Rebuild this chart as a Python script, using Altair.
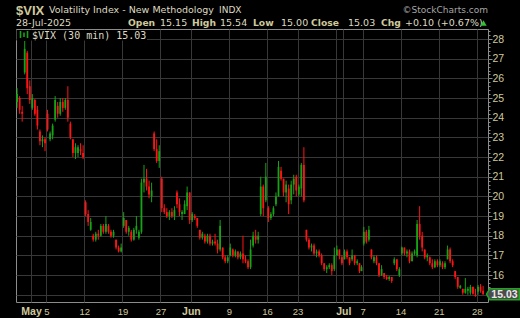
import altair as alt
import pandas as pd

# ---------------- data ----------------
days = [
    "2025-04-29", "2025-04-30",
    "2025-05-01", "2025-05-02", "2025-05-05", "2025-05-06", "2025-05-07", "2025-05-08", "2025-05-09",
    "2025-05-12", "2025-05-13", "2025-05-14", "2025-05-15", "2025-05-16",
    "2025-05-19", "2025-05-20", "2025-05-21", "2025-05-22", "2025-05-23",
    "2025-05-27", "2025-05-28", "2025-05-29", "2025-05-30",
    "2025-06-02", "2025-06-03", "2025-06-04", "2025-06-05", "2025-06-06",
    "2025-06-09", "2025-06-10", "2025-06-11", "2025-06-12", "2025-06-13",
    "2025-06-16", "2025-06-17", "2025-06-18", "2025-06-20",
    "2025-06-23", "2025-06-24", "2025-06-25", "2025-06-26", "2025-06-27",
    "2025-06-30", "2025-07-01", "2025-07-02", "2025-07-03",
    "2025-07-07", "2025-07-08", "2025-07-09", "2025-07-10", "2025-07-11",
    "2025-07-14", "2025-07-15", "2025-07-16", "2025-07-17", "2025-07-18",
    "2025-07-21", "2025-07-22", "2025-07-23", "2025-07-24", "2025-07-25",
    "2025-07-28",
]
half_days = ["2025-07-03"]

opens = [
    24.8, 25.0, 24.3,  26.3, 27.3, 25.6,  24.5, 24.9, 24.4,  23.3, 22.8, 22.9,
    24.2, 22.9, 23.1,  23.9, 24.6, 24.2,  24.8, 24.5, 24.9,  23.7, 22.9, 22.2,  22.2, 22.4, 22.2,
    19.7, 19.1, 18.3,  18.0, 17.8, 18.1,  18.0, 18.5, 18.2,  18.5, 18.2, 18.0,  17.8, 17.4, 17.2,
    18.5, 18.8, 18.2,  18.2, 17.8, 18.3,  17.9, 18.2, 20.7,  20.9, 20.5, 20.0,  23.2, 22.4, 21.8,
    20.9, 19.4, 19.2,  19.0, 19.2, 19.0,  20.2, 19.6, 19.1,  19.1, 19.5, 20.2,
    18.8, 19.0, 18.9,  18.3, 17.9, 18.0,  17.7, 18.0, 17.6,  17.7, 17.6, 17.3,  17.4, 16.9, 16.7,
    17.0, 17.3, 17.0,  17.2, 16.9, 17.1,  16.8, 16.7, 16.4,  17.5, 18.0, 17.8,  19.1, 20.5, 19.8,
    19.4, 18.9, 19.1,  19.6, 20.0, 21.3,  20.9, 20.2, 20.4,  19.8, 20.6, 21.0,
    20.1, 20.4, 21.6,  18.3, 17.8, 17.4,  17.5, 17.1, 17.2,  17.0, 16.6, 16.3,  16.4, 16.5, 16.3,
    17.0, 17.3, 16.9,  16.8, 17.2, 16.9,  16.8, 17.0, 16.6,  16.6, 16.2,
    17.6, 18.2, 17.8,  17.3, 16.7, 16.9,  16.6, 16.0, 16.1,  15.9, 15.8, 15.9,  16.6, 16.8, 16.0,
    17.1, 17.4, 17.1,  17.2, 16.7, 17.1,  17.0, 18.6, 18.0,  17.3, 16.9, 16.9,  16.6, 16.4, 16.7,
    16.5, 16.6, 16.4,  16.8, 17.3, 16.7,  16.2, 15.9, 15.35, 15.3, 15.1, 15.2,  15.1, 15.4, 15.0,
    15.15, 15.4, 15.2,
]
highs = [
    25.5, 25.1, 24.6,  27.9, 27.4, 25.9,  25.2, 24.95, 24.6, 23.4, 23.1, 23.0,
    24.4, 23.3, 23.7,  25.1, 24.8, 25.0,  25.0, 25.0, 25.6,  23.8, 22.9, 22.7,  22.6, 22.7, 22.6,
    19.8, 19.3, 18.9,  18.1, 18.2, 18.3,  18.6, 18.6, 19.0,  18.6, 18.3, 18.3,  17.8, 17.5, 17.6,
    19.2, 18.8, 18.5,  18.3, 18.4, 19.0,  18.3, 20.9, 21.6,  21.4, 20.8, 20.7,  23.3, 22.9, 22.6,
    21.0, 19.6, 19.4,  19.3, 19.4, 19.5,  20.3, 19.9, 19.3,  19.8, 20.5, 20.2,
    19.2, 19.1, 18.9,  18.3, 18.2, 18.1,  18.1, 18.1, 17.8,  18.1, 17.8, 18.8,  17.4, 17.0, 17.0,
    17.6, 17.35, 17.3, 17.2, 17.2, 18.0,  17.0, 16.8, 17.8,  18.2, 18.3, 18.2,  21.0, 20.6, 21.7,
    19.5, 19.2, 19.5,  20.2, 21.8, 21.5,  20.9, 20.8, 20.6,  20.8, 21.1, 21.1,
    20.6, 21.7, 22.5,  18.3, 17.9, 17.6,  17.6, 17.3, 17.3,  17.1, 16.6, 16.5,  16.6, 16.6, 17.4,
    17.5, 17.3, 17.0,  17.3, 17.3, 16.9,  17.3, 17.0, 16.8,  16.6, 16.5,
    18.45, 18.3, 18.5, 17.3, 17.0, 17.0,  16.6, 16.5, 16.1,  16.0, 15.95, 15.9, 16.9, 16.8, 16.4,
    17.45, 17.4, 17.3, 17.3, 17.2, 17.3,  18.8, 19.5, 18.2,  17.3, 17.1, 16.95, 16.8, 16.8, 16.8,
    16.8, 16.7, 16.7,  17.5, 17.4, 16.8,  16.2, 15.9, 15.5,  15.3, 15.85, 15.4, 15.5, 15.4, 15.3,
    15.5, 15.54, 15.45,
]
lows = [
    24.5, 24.2, 23.8,  26.2, 25.2, 24.7,  24.4, 24.1, 23.4,  22.6, 22.5, 22.3,
    23.3, 22.8, 22.9,  23.8, 24.0, 24.1,  24.3, 24.4, 23.8,  22.9, 22.0, 21.9,  22.0, 22.1, 21.9,
    19.0, 18.5, 18.25, 17.7, 17.7, 17.8,  17.95, 18.1, 18.1, 18.1, 17.9, 17.9,  17.3, 17.15, 17.15,
    18.4, 18.1, 18.0,  17.7, 17.75, 18.1, 17.8, 18.1, 20.2,  20.3, 19.9, 19.7,  22.3, 21.7, 21.45,
    19.2, 19.1, 18.9,  18.8, 18.9, 18.8,  19.4, 19.0, 18.8,  19.1, 19.3, 18.6,
    18.7, 18.8, 18.4,  17.8, 17.8, 17.6,  17.6, 17.5, 17.5,  17.5, 17.1, 17.2,  16.8, 16.6, 16.6,
    16.95, 16.9, 16.9, 16.8, 16.8, 16.6,  16.6, 16.3, 16.3,  17.4, 17.6, 17.6,  19.0, 19.0, 19.7,
    18.7, 18.8, 19.0,  19.5, 20.0, 20.8,  20.0, 19.7, 19.1,  19.6, 20.1, 20.0,
    20.0, 20.0, 19.7,  17.7, 17.3, 17.2,  17.0, 16.9, 16.9,  16.5, 16.2, 16.1,  16.3, 16.0, 16.2,
    17.0, 16.8, 16.5,  16.8, 16.8, 16.5,  16.7, 16.5, 16.5,  16.1, 16.2,
    17.5, 17.6, 17.7,  16.8, 16.6, 16.5,  15.9, 15.95, 15.8, 15.75, 15.7, 15.6, 16.5, 16.2, 15.9,
    17.0, 17.0, 16.9,  16.6, 16.7, 17.0,  16.9, 17.8, 17.2,  16.8, 16.7, 16.5,  16.3, 16.35, 16.4,
    16.4, 16.3, 16.3,  16.8, 16.6, 16.4,  15.8, 15.3, 15.3,  15.0, 15.05, 15.0, 15.0, 15.0, 14.9,
    15.0, 15.1, 15.0,
]
closes = [
    25.2, 24.4, 24.2,  27.5, 25.5, 24.9,  25.0, 24.2, 23.6,  22.8, 22.9, 22.7,
    23.4, 23.2, 23.6,  24.9, 24.2, 24.8,  24.5, 24.9, 24.0,  23.0, 22.2, 22.5,  22.5, 22.3, 22.0,
    19.1, 18.7, 18.7,  17.8, 18.1, 18.0,  18.5, 18.2, 18.6,  18.2, 18.0, 18.2,  17.4, 17.2, 17.4,
    18.9, 18.2, 18.4,  17.8, 18.3, 18.5,  18.2, 20.7, 20.9,  20.5, 20.1, 20.3,  22.4, 21.8, 22.3,
    19.4, 19.2, 19.0,  19.2, 19.0, 19.3,  19.6, 19.2, 19.2,  19.6, 20.2, 18.8,
    19.1, 18.9, 18.5,  17.9, 18.1, 17.7,  18.0, 17.6, 17.7,  17.6, 17.3, 18.5,  16.9, 16.7, 16.9,
    17.4, 17.0, 17.2,  16.9, 17.1, 16.8,  16.7, 16.4, 17.3,  18.0, 17.8, 18.0,  20.5, 19.4, 21.0,
    18.9, 19.1, 19.4,  20.0, 21.5, 20.9,  20.2, 20.6, 19.6,  20.6, 20.9, 20.3,
    20.5, 21.6, 19.8,  17.8, 17.4, 17.5,  17.1, 17.2, 17.0,  16.6, 16.3, 16.4,  16.5, 16.2, 17.0,
    17.3, 17.0, 16.6,  17.2, 16.9, 16.6,  17.0, 16.6, 16.7,  16.2, 16.4,
    18.2, 17.7, 18.3,  16.9, 16.9, 16.6,  16.0, 16.3, 15.9,  15.8, 15.9, 15.7,  16.8, 16.3, 16.3,
    17.4, 17.1, 17.2,  16.7, 17.1, 17.2,  18.6, 18.0, 17.4,  16.9, 17.0, 16.6,  16.4, 16.7, 16.5,
    16.7, 16.4, 16.6,  17.3, 16.7, 16.5,  15.9, 15.4, 15.45, 15.1, 15.3, 15.3,  15.4, 15.05, 14.93,
    15.4, 15.2, 15.03,
]

tick_days = ["2025-05-01", "2025-05-05", "2025-05-12", "2025-05-19", "2025-05-27",
             "2025-06-02", "2025-06-09", "2025-06-16", "2025-06-23", "2025-06-30",
             "2025-07-01", "2025-07-07", "2025-07-14", "2025-07-21", "2025-07-28"]
tick_labels = ["May", "5", "12", "19", "27", "Jun", "9", "16", "23", "",
               "Jul", "7", "14", "21", "28"]
month_labels = ["May", "Jun", "Jul"]

header_title = ["$VIX", "Volatility Index - New Methodology", "INDX", "\u00a9StockCharts.com"]
quote_date = "28-Jul-2025"
quote_keys = ["Open", "High", "Low", "Close", "Chg"]
quote_vals = ["15.15", "15.54", "15.00", "15.03", "+0.10 (+0.67%)"]
legend_text = "$VIX (30 min) 15.03"

# ---------------- build candle table ----------------
rows = []
start = 0
i = 0
day_start = {}
for d in days:
    nb = 7 if d in half_days else 13
    nc = 2 if d in half_days else 3
    day_start[d] = start
    for k in range(nc):
        o, h, l, c = opens[i], highs[i], lows[i], closes[i]
        rows.append(dict(day=d, pos=start + (k + 0.5) * nb / nc, open=o,
                         high=max(h, o, c), low=min(l, o, c), close=c,
                         dir="up" if c >= o else "down"))
        i += 1
    start += nb
df = pd.DataFrame(rows)

tick_pos = [day_start[d] for d in tick_days]

GREEN = "#16a316"
RED = "#ff1414"
GRID = "#383838"
FRAME = "#8c8c8c"
TAN = "#cfc99c"
LIGHT = "#dedac0"

xs = alt.Scale(domain=[0.3, 806.2], nice=False, zero=False)
ys = alt.Scale(domain=[14.63, 28.51], nice=False, zero=False)

label_expr = " : ".join(f"datum.value == {p} ? '{t}'" for p, t in zip(tick_pos, tick_labels)) + " : ''"
month_test = " || ".join(f"datum.value == {p}" for p, t in zip(tick_pos, tick_labels) if t in month_labels)

x_axis = alt.Axis(
    values=tick_pos, labelExpr=label_expr, grid=True, gridColor=GRID, ticks=False,
    domain=False, labelColor=TAN, labelFont="Liberation Sans",
    labelFontSize={"condition": {"test": month_test, "value": 10.5}, "value": 9.5},
    labelFontWeight={"condition": {"test": month_test, "value": "bold"}, "value": "normal"},
    labelPadding=4, labelOverlap=False, labelBound=False, labelFlush=False,
    labelBaseline="top", title=None,
)

y_vals = [round(14.8 + 0.2 * k, 1) for k in range(69)]
int_test = "abs(datum.value - round(datum.value)) < 0.01"
y_axis = alt.Axis(
    orient="right", values=y_vals,
    labelExpr=f"({int_test}) && datum.value > 15.5 ? format(datum.value, '.0f') : ''",
    grid=True, gridColor=GRID,
    gridOpacity={"condition": {"test": int_test, "value": 1}, "value": 0},
    ticks=True, tickColor=FRAME,
    tickSize={"condition": {"test": int_test, "value": 4}, "value": 2},
    domain=False, labelColor=TAN, labelFont="Liberation Sans", labelFontSize=10.5,
    labelPadding=0, labelBaseline="middle", labelOverlap=False, labelBound=False,
    labelFlush=False, title=None,
)

color = alt.Color("dir:N", scale=alt.Scale(domain=["up", "down"], range=[GREEN, RED]), legend=None)

base = alt.Chart(df)
wicks = base.mark_rule(strokeWidth=1).encode(
    x=alt.X("pos:Q", scale=xs, axis=x_axis),
    y=alt.Y("low:Q", scale=ys, axis=y_axis),
    y2="high:Q",
    color=color,
)
bodies = base.mark_rule(strokeWidth=1.8).encode(
    x=alt.X("pos:Q", scale=xs, axis=x_axis),
    y=alt.Y("open:Q", scale=ys, axis=y_axis),
    y2="close:Q",
    color=color,
)

OX, OY = 16, 29  # plot origin in page pixels


def txt(s, x, y, size, weight="normal", color=LIGHT, font="DejaVu Sans", align="left", baseline="alphabetic"):
    return alt.Chart(pd.DataFrame({"t": [s]})).mark_text(
        align=align, baseline=baseline, font=font, fontSize=size, fontWeight=weight, color=color
    ).encode(text="t:N", x=alt.value(x - OX), y=alt.value(y - OY))


one = pd.DataFrame({"k": [0]})
legend_bg = alt.Chart(one).mark_rect(color="#000000").encode(
    x=alt.value(0.5), x2=alt.value(131), y=alt.value(1), y2=alt.value(11.5)
)
icon = [
    alt.Chart(one).mark_rule(color=GREEN, strokeWidth=1.6).encode(
        x=alt.value(xx), y=alt.value(y1), y2=alt.value(y2))
    for xx, y1, y2 in [(4.5, 2, 9), (8, 3.5, 8), (11.5, 2, 9)]
]

layers = [wicks, bodies, legend_bg] + icon + [
    txt(legend_text, 32, 39, 10, color=LIGHT, font="DejaVu Sans Mono"),
    txt(header_title[0], 16, 14.5, 13, weight="bold", color=TAN, font="Liberation Sans"),
    txt(header_title[1], 49, 13, 9.5, color=LIGHT),
    txt(header_title[2], 219, 13, 9, color=LIGHT),
    txt(header_title[3], 488, 13, 9, color="#a6a6a6", align="right"),
    txt(quote_date, 16, 26, 9.5, color=LIGHT),
]
key_x = [128, 192, 253, 311, 381]
val_x = [160, 220, 281, 348, 405]
for kk, vv, kx, vx in zip(quote_keys, quote_vals, key_x, val_x):
    layers.append(txt(kk, kx, 26, 9.2, weight="bold", color=TAN))
    layers.append(txt(vv, vx, 26, 9.5, color=LIGHT))

layers.append(
    alt.Chart(one).mark_point(shape="triangle-up", size=40, filled=True, color="#33c233", opacity=1).encode(
        x=alt.value(483.5 - OX), y=alt.value(23 - OY))
)

last = pd.DataFrame({"v": [closes[-1]]})
box_path = "M-1,0L-0.8,-0.335L1,-0.335L1,0.335L-0.8,0.335Z"
layers.append(
    alt.Chart(last).mark_point(shape=box_path, size=1076, filled=True, fill="#4b4b4b",
                               stroke="#1fa51f", strokeWidth=1.5, opacity=1).encode(
        x=alt.value(502.9 - OX), y=alt.Y("v:Q", scale=ys, axis=y_axis))
)
layers.append(
    alt.Chart(last).mark_text(font="Liberation Sans", fontSize=10.5, fontWeight="bold",
                              color="#e8e8e8", align="center", baseline="middle", dy=0.5).encode(
        x=alt.value(504.5 - OX), y=alt.Y("v:Q", scale=ys, axis=y_axis), text=alt.Text("v:Q", format=".2f"))
)

chart = alt.layer(*layers).properties(
    width=472, height=273, background="#000000",
    padding={"left": 16, "top": 29, "right": 32, "bottom": 16},
    autosize=alt.AutoSizeParams(type="none"),
).configure_view(stroke=FRAME, strokeWidth=1, fill="#000000")

chart.save("out.html", embed_options={"renderer": "svg", "actions": False})
